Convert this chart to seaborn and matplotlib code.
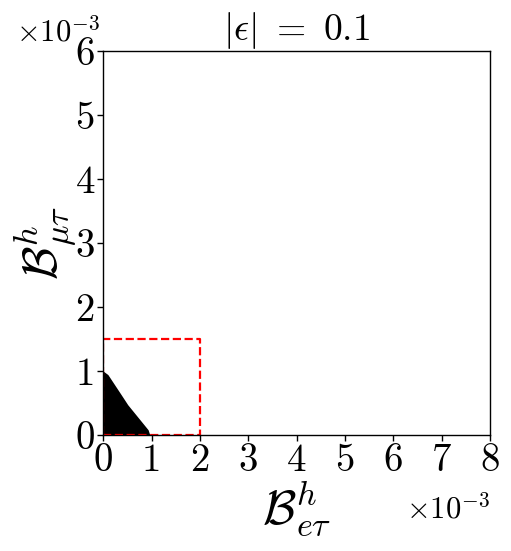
import matplotlib
matplotlib.use('Agg')
import matplotlib.pyplot as plt
import seaborn as sns
import numpy as np
import pandas as pd

# allowed region boundary (units of 1e-3)
edge_x = [0.00, 0.00, 0.09, 0.23, 0.37, 0.50, 0.64, 0.78, 0.92, 0.95]
edge_y = [0.00, 0.98, 0.93, 0.77, 0.61, 0.46, 0.33, 0.20, 0.07, 0.00]

# bound box (units of 1e-3)
box_x = [0, 2, 2, 0, 0]
box_y = [0, 0, 1.5, 1.5, 0]

scale = 1e-3
region = pd.DataFrame({'x': np.array(edge_x) * scale, 'y': np.array(edge_y) * scale})
bound = pd.DataFrame({'x': np.array(box_x) * scale, 'y': np.array(box_y) * scale})

sns.set_style('ticks')
plt.rcParams['font.family'] = 'serif'
plt.rcParams['font.serif'] = ['cmr10']
plt.rcParams['mathtext.fontset'] = 'cm'
plt.rcParams['axes.formatter.use_mathtext'] = True
plt.rcParams['axes.unicode_minus'] = False
plt.rcParams['text.color'] = 'black'
plt.rcParams['axes.labelcolor'] = 'black'
plt.rcParams['xtick.color'] = 'black'
plt.rcParams['ytick.color'] = 'black'

fig, ax = plt.subplots(figsize=(5.11, 5.51), dpi=100)
fig.subplots_adjust(left=0.202, right=0.959, top=0.907, bottom=0.21)

ax.fill(region['x'], region['y'], facecolor='black', lw=1.5, edgecolor='black')
sns.lineplot(data=bound, x='x', y='y', sort=False, estimator=None, ax=ax,
             color='red', ls='--', lw=1.6)

ax.set_xlim(0, 8e-3)
ax.set_ylim(0, 6e-3)
ax.set_xticks(np.arange(0, 9) * scale)
ax.set_yticks(np.arange(0, 7) * scale)
ax.set_xticklabels([str(i) for i in range(9)])
ax.set_yticklabels([str(i) for i in range(7)])
ax.tick_params(labelsize=28, direction='out', length=4, width=1, pad=2)
for s in ax.spines.values():
    s.set_color('black')
    s.set_linewidth(1)

ax.set_title(r'$|\epsilon|\ =\ 0.1$', fontsize=27, pad=2)
ax.set_xlabel(r'$\mathcal{B}^h_{e\tau}$', fontsize=35, labelpad=0)
ax.set_ylabel(r'$\mathcal{B}^h_{\mu\tau}$', fontsize=35, labelpad=-2)

ax.text(-0.225, 1.01, r'$\times10^{-3}$', transform=ax.transAxes, fontsize=22, ha='left', va='bottom')
ax.text(1.0, -0.15, r'$\times10^{-3}$', transform=ax.transAxes, fontsize=22, ha='right', va='top')

fig.savefig('out.png', dpi=100, facecolor='white')
